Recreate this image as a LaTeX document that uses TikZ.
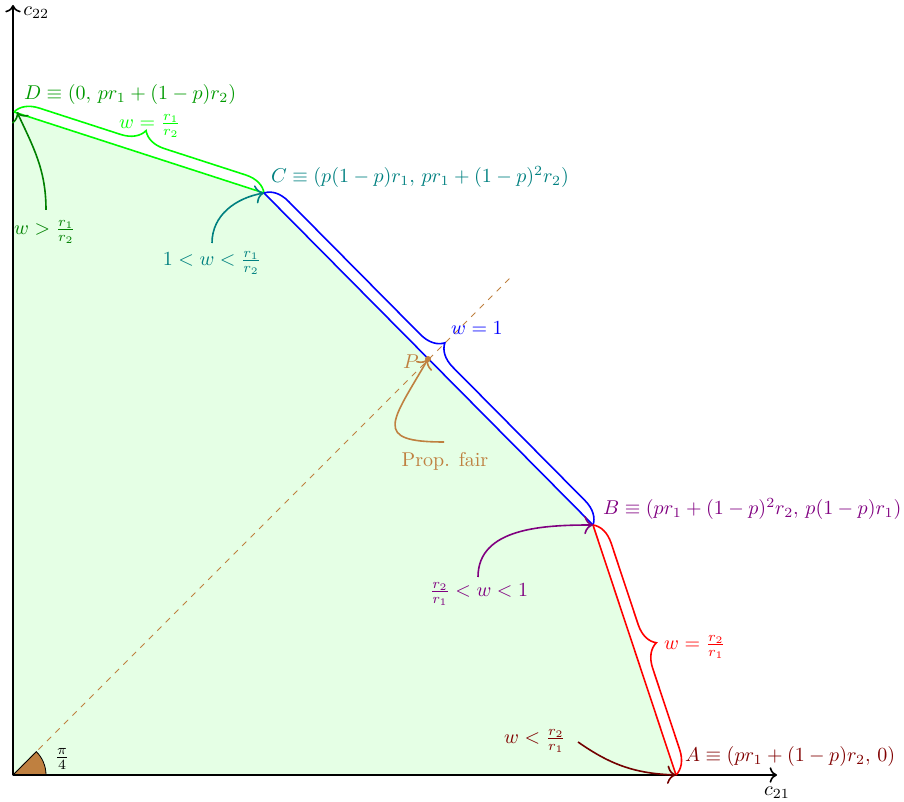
\documentclass[tikz,border=0pt]{standalone}
\usepackage{amsmath}
\usetikzlibrary{decorations.pathreplacing,arrows.meta}
\begin{document}
\begin{tikzpicture}[x=0.5pt,y=0.5pt,
  edgeline/.style={thick},
  brc/.style={thick, decorate, decoration={brace, amplitude=11.5pt}},
  pointer/.style={thick,-{To[scale=1.3]}},
  axisline/.style={thick,-{To[scale=1.1]}}]
\useasboundingbox (0,0) rectangle (904,802);
% vertices
\coordinate (O) at (13,27);
\coordinate (A) at (676,27);
\coordinate (B) at (593,277);
\coordinate (C) at (264,609);
\coordinate (D) at (14,690);
\coordinate (P) at (428,443);
\coordinate (xend) at (777,27);
\coordinate (yend) at (13,797);
\coordinate (dend) at (512,526);
% region
\fill[green!10] (O) -- (A) -- (B) -- (C) -- (D) -- cycle;
% dashed diagonal
\draw[brown, dashed] (O) -- (dend);
% angle wedge
\filldraw[fill=brown, draw=black] (O) -- ++(33,0) arc[start angle=0, end angle=45, radius=33] -- cycle;
\node (pi4) at (62,43) {$\frac{\pi}{4}$};
% axes
\draw[axisline] (O) -- (xend);
\draw[axisline] (O) -- (yend);
\node[anchor=north] (c21) at (777,22) {$c_{21}$};
\node[anchor=west, inner sep=1pt] (c22) at (21,789) {$c_{22}$};
% boundary
\draw[edgeline, green] (D) -- (C);
\draw[edgeline, blue] (C) -- (B);
\draw[edgeline, red] (B) -- (A);
% braces
\draw[brc, green] (D) -- (C);
\draw[brc, blue] (C) -- (B);
\draw[brc, red] (B) -- (A);
\node[green] (wdc) at (150,676) {$w=\frac{r_1}{r_2}$};
\node[blue] (wcb) at (477,474) {$w=1$};
\node[red] (wba) at (695,155) {$w=\frac{r_2}{r_1}$};
% vertex labels
\node[green!60!black, anchor=west] (Dl) at (17,707) {$D\equiv(0,\, pr_1+(1-p)r_2)$};
\node[teal, anchor=west] (Cl) at (264,625) {$C\equiv(p(1-p)r_1,\, pr_1+(1-p)^2r_2)$};
\node[violet, anchor=west] (Bl) at (596,293) {$B\equiv(pr_1+(1-p)^2r_2,\, p(1-p)r_1)$};
\node[red!50!black, anchor=west] (Al) at (678,45) {$A\equiv(pr_1+(1-p)r_2,\, 0)$};
% P
\fill[brown] (P) circle[radius=3];
\node[brown] (Pl) at (411,440) {$P$};
\node[brown] (pf) at (445,341) {Prop. fair};
% region labels
\node[green!50!black] (gl) at (45,570) {$w>\frac{r_1}{r_2}$};
\node[teal] (tl) at (212,539) {$1<w<\frac{r_1}{r_2}$};
\node[violet] (vl) at (479,208) {$\frac{r_2}{r_1}<w<1$};
\node[red!50!black] (ml) at (535,61) {$w<\frac{r_2}{r_1}$};
% pointer starts
\coordinate (gs) at (46,592);
\coordinate (ts) at (212,559);
\coordinate (bs) at (444,360);
\coordinate (vs) at (478,225);
\coordinate (ms) at (578,60);
\coordinate (Dt) at (17,690);
% pointers
\draw[pointer, green!50!black] (gs) to[out=90, in=-65] (Dt);
\draw[pointer, teal] (ts) to[out=90, in=190] (C);
\draw[pointer, brown] (bs) to[out=180, in=-120, looseness=2.2] (P);
\draw[pointer, violet] (vs) to[out=90, in=180] (B);
\draw[pointer, red!45!black] (ms) to[out=-35, in=178] (A);
\end{tikzpicture}
\end{document}
